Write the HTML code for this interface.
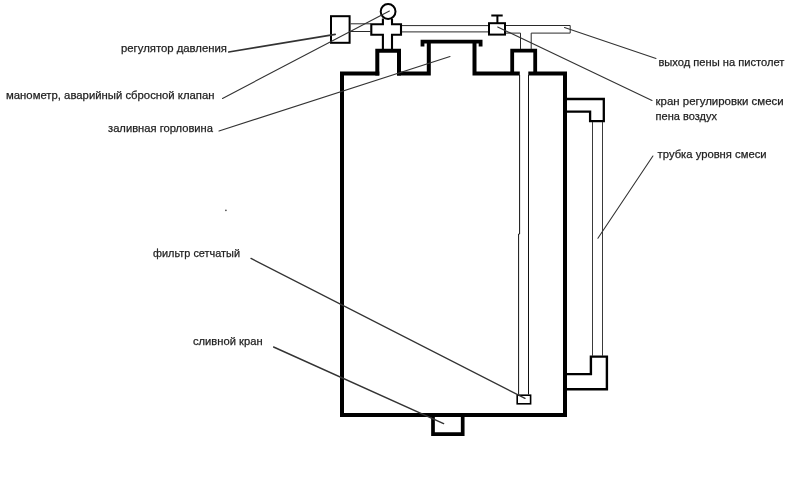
<!DOCTYPE html>
<html lang="ru">
<head>
<meta charset="utf-8">
<title>Схема пеногенератора</title>
<style>
html,body{margin:0;padding:0;background:#fff;}
body{width:800px;height:480px;overflow:hidden;position:relative;font-family:"Liberation Sans",sans-serif;}
svg{position:absolute;left:0;top:0;display:block;filter:blur(0.35px);}
.thick{fill:none;stroke:#000;stroke-width:4;stroke-linejoin:miter;stroke-linecap:butt;}
.med{fill:none;stroke:#000;stroke-width:2;stroke-linejoin:miter;}
.thin{fill:none;stroke:#2a2a2a;stroke-width:1;}
.lead{fill:none;stroke:#333;stroke-width:1.1;stroke-linecap:round;}
text{font-family:"Liberation Sans",sans-serif;font-size:11.6px;fill:#222;stroke:#222;stroke-width:0.25px;}
</style>
</head>
<body>
<svg width="800" height="480" viewBox="0 0 800 480">
<rect x="0" y="0" width="800" height="480" fill="#fff"/>

<!-- tank body -->
<path class="thick" d="M379.3 73.5 H342 V415 H565 V73.5 H528.3"/>
<path class="thick" d="M519.8 73.5 H474.5 V43"/>
<path class="thick" d="M428.8 43 V73.5 H397"/>
<!-- gauge neck -->
<path class="thick" d="M377.3 75.5 V50.7 H399 V75.5"/>
<!-- filler cap -->
<path class="thick" d="M422.5 46.4 V41.6 H480.6 V46.4" style="stroke-width:3.8"/>
<!-- outlet neck -->
<path class="thick" d="M512.2 73.5 V50.6 H535.2 V73.5" style="stroke-width:3.8"/>
<!-- drain -->
<path class="thick" d="M433 415 V434.2 H462.7 V415" style="stroke-width:3.7"/>

<!-- regulator box -->
<rect class="med" x="331" y="16.2" width="18.6" height="26.6"/>
<!-- gauge -->
<circle class="med" cx="388.1" cy="11.5" r="7.4"/>
<path class="med" d="M382.9 18.6 V24.2 H371.3 V34.7 H382.9 V49 M392 49 V34.7 H401 V24.2 H392 V18.6" style="stroke-width:2.1"/>
<!-- valve -->
<rect class="med" x="489" y="23.2" width="16" height="11.4"/>
<path class="med" d="M491.3 15.4 H502.7 M497.4 15.4 V23"/>

<!-- pipes -->
<path class="thin" d="M350.5 23.8 H371 M350.5 31.5 H371 M402 25.6 H488 M402 31.9 H488"/>
<path class="thin" d="M506 25.5 H570.2 V33.1 H531.2 V49 M506 33.1 H520.5 V49"/>
<!-- dip tube -->
<path class="thin" d="M519.6 75 V234 H518.6 V394.4 M528.5 75 V394.4" style="stroke:#111"/>
<rect x="517.2" y="395.2" width="13.4" height="8.6" fill="none" stroke="#000" stroke-width="1.6"/>
<!-- sight tube fittings -->
<path class="med" d="M567 99 H603.8 V121.2 H590.1 V111.7 H567" style="stroke-width:2.3"/>
<path class="med" d="M567 374.1 H590.9 V356.6 H606.9 V389.2 H567" style="stroke-width:2.4"/>
<path class="thin" d="M592.5 122 V356 M602.5 122 V356" style="stroke:#3a3a3a"/>

<!-- leader lines -->
<path class="lead" d="M228.7 52 L335.2 34.4" style="stroke-width:1.6"/>
<path class="lead" d="M222.5 98.4 L389.4 11"/>
<path class="lead" d="M219 131 L450 56.5"/>
<path class="lead" d="M656 58.4 L564.5 27.5"/>
<path class="lead" d="M652 100.4 L497.7 27"/>
<path class="lead" d="M652.9 156 L597.9 238.2"/>
<path class="lead" d="M251 258.4 L525 398.4" style="stroke-width:1.3"/>
<path class="lead" d="M273.6 347 L443.6 423.6" style="stroke-width:1.4"/>
<circle cx="225.9" cy="210.3" r="0.9" fill="#555"/>

<!-- labels -->
<text x="121" y="51.5" textLength="106" lengthAdjust="spacingAndGlyphs">регулятор давления</text>
<text x="6" y="99.2" textLength="208.5" lengthAdjust="spacingAndGlyphs">манометр, аварийный сбросной клапан</text>
<text x="108" y="132" textLength="105" lengthAdjust="spacingAndGlyphs">заливная горловина</text>
<text x="658.4" y="65.5" textLength="126" lengthAdjust="spacingAndGlyphs">выход пены на пистолет</text>
<text x="655.6" y="104.6" textLength="128" lengthAdjust="spacingAndGlyphs">кран регулировки смеси</text>
<text x="655.6" y="119.6" textLength="61.4" lengthAdjust="spacingAndGlyphs">пена воздух</text>
<text x="657.6" y="158.4" textLength="109" lengthAdjust="spacingAndGlyphs">трубка уровня смеси</text>
<text x="153" y="256.6" textLength="87" lengthAdjust="spacingAndGlyphs">фильтр сетчатый</text>
<text x="193" y="345" textLength="69.6" lengthAdjust="spacingAndGlyphs">сливной кран</text>
</svg>
</body>
</html>
